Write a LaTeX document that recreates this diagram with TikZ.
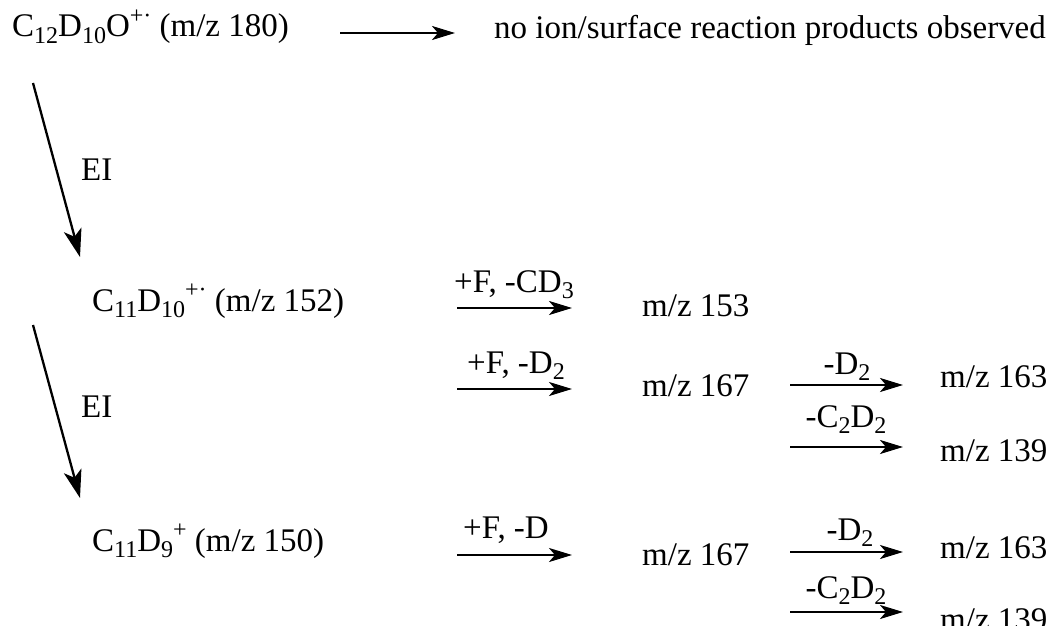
\documentclass[tikz,border=0pt]{standalone}
\usepackage{fontspec}
\setmainfont{Liberation Serif}
\usetikzlibrary{arrows.meta}
\newcommand{\sbs}[1]{\raisebox{-0.2em}{\fontsize{24}{24}\selectfont #1}}
\newcommand{\sps}[1]{\raisebox{0.42em}{\fontsize{24}{24}\selectfont #1}}

\begin{document}
\begin{tikzpicture}[x=1pt,y=-1pt,
    txt/.style={anchor=base west,inner sep=0pt,font=\fontsize{33}{40}\selectfont},
    lbl/.style={anchor=base,inner sep=0pt,font=\fontsize{33}{40}\selectfont},
    rxn/.style={line width=2.3pt,-{Stealth[length=23pt,width=14pt,inset=6pt]}},
    ei/.style={line width=2.3pt,-{Stealth[length=28pt,width=18pt,inset=7pt]}}]
  \useasboundingbox (0,0) rectangle (1049,626);
  % parent ion
  \node[txt] (parent) at (12,37) {C\sbs{12}D\sbs{10}O\sps{+·} (m/z 180)};
  \node[txt] (none) at (494,38) {no ion/surface reaction products observed};
  \coordinate (p1) at (340,33); \coordinate (p2) at (455,33);
  \draw[rxn] (p1) -- (p2);
  % EI fragments
  \node[txt] (ionA) at (92,311) {C\sbs{11}D\sbs{10}\sps{+·} (m/z 152)};
  \node[txt] (ionB) at (92,551) {C\sbs{11}D\sbs{9}\sps{+} (m/z 150)};
  \coordinate (e1) at (33,83);  \coordinate (e2) at (80,257);
  \coordinate (e3) at (33,325); \coordinate (e4) at (80,498);
  \draw[ei] (e1) -- (e2);
  \draw[ei] (e3) -- (e4);
  \node[txt] (ei1) at (81,180) {EI};
  \node[txt] (ei2) at (81,417) {EI};
  % products of m/z 152
  \coordinate (a1) at (457,308); \coordinate (a2) at (572,308);
  \draw[rxn] (a1) -- (a2);
  \node[lbl] (la) at (514,292) {+F, -CD\sbs{3}};
  \node[txt] (m153) at (642,316) {m/z 153};
  \coordinate (b1) at (457,389); \coordinate (b2) at (572,389);
  \draw[rxn] (b1) -- (b2);
  \node[lbl] (lb) at (516,373) {+F, -D\sbs{2}};
  \node[txt] (m167a) at (642,396) {m/z 167};
  \coordinate (c1) at (790,385); \coordinate (c2) at (903,385);
  \draw[rxn] (c1) -- (c2);
  \node[lbl] (lc) at (847,374) {-D\sbs{2}};
  \node[txt] (m163a) at (940,387) {m/z 163};
  \coordinate (d1) at (790,447); \coordinate (d2) at (903,447);
  \draw[rxn] (d1) -- (d2);
  \node[lbl] (ld) at (846,427) {-C\sbs{2}D\sbs{2}};
  \node[txt] (m139a) at (940,461) {m/z 139};
  % products of m/z 150
  \coordinate (f1) at (457,555); \coordinate (f2) at (572,555);
  \draw[rxn] (f1) -- (f2);
  \node[lbl] (lf) at (506,538) {+F, -D};
  \node[txt] (m167b) at (642,565) {m/z 167};
  \coordinate (g1) at (790,552); \coordinate (g2) at (903,552);
  \draw[rxn] (g1) -- (g2);
  \node[lbl] (lg) at (850,540) {-D\sbs{2}};
  \node[txt] (m163b) at (940,558) {m/z 163};
  \coordinate (h1) at (790,612); \coordinate (h2) at (903,612);
  \draw[rxn] (h1) -- (h2);
  \node[lbl] (lh) at (846,598) {-C\sbs{2}D\sbs{2}};
  \node[txt] (m139b) at (940,630) {m/z 139};
\end{tikzpicture}
\end{document}
